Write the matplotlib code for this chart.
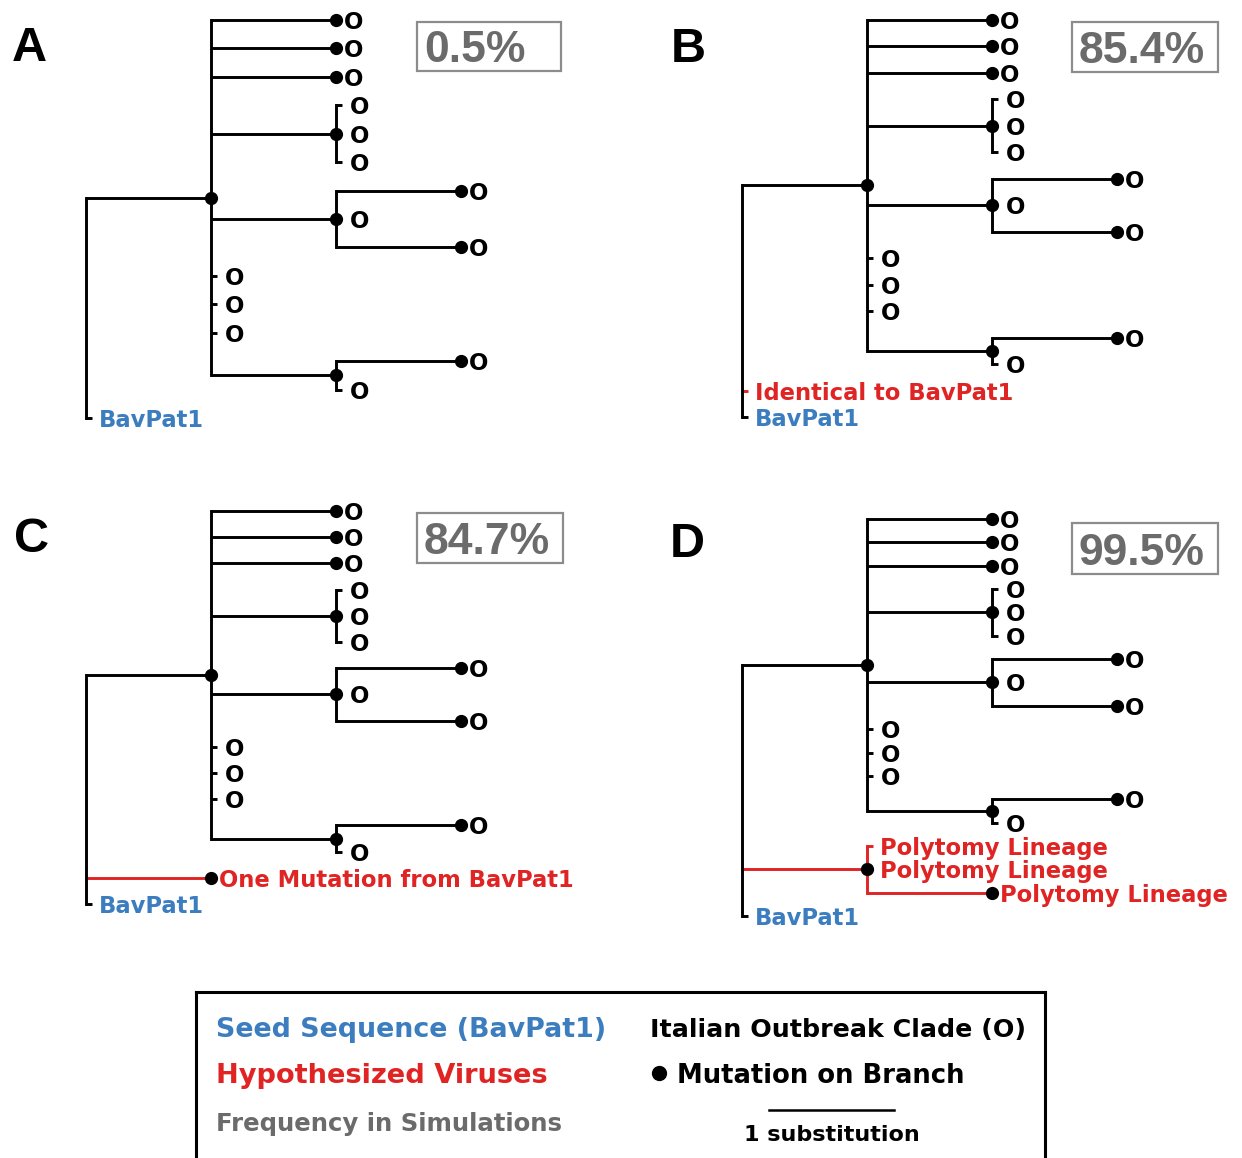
import matplotlib
matplotlib.use('Agg')
import matplotlib.pyplot as plt
from matplotlib.patches import Rectangle

W, H = 1242, 1158
fig = plt.figure(figsize=(W / 100, H / 100), dpi=100)

BLUE = '#3b7dbf'
RED = '#e02424'
GRAY = '#6b6b6b'
BOXGRAY = '#8c8c8c'
LW = 2.1
DOT = 8.5
TICK = 0.045         # length (substitutions) drawn for a zero-length tip
LABEL_FONT = 'DejaVu Sans'
HEAD_FONT = 'Liberation Sans'

# ---- data -------------------------------------------------------------
# tree nodes are (branch length in substitutions, children list or tip label)
O = 'O'
outbreak_clade = (1, [(1, O), (1, O), (1, O),
                      (1, [(0, O), (0, O), (0, O)]),
                      (1, [(1, O), (0, O), (1, O)]),
                      (0, O), (0, O), (0, O),
                      (1, [(1, O), (0, O)])])
seed_tip = (0, 'BavPat1')
panels = ['A', 'B', 'C', 'D']
hypothesized = {
    'A': None,
    'B': (0, 'Identical to BavPat1'),
    'C': (1, 'One Mutation from BavPat1'),
    'D': (1, [(0, 'Polytomy Lineage'), (0, 'Polytomy Lineage'), (1, 'Polytomy Lineage')]),
}
frequencies = {'A': 0.5, 'B': 85.4, 'C': 84.7, 'D': 99.5}
scale_bar_subs = 1

# ---- layout (pixels) ----------------------------------------------------
UNIT = 125.0   # px per substitution
# root x, first tip y, last tip y
panel_pos = {'A': (86, 20, 418), 'B': (742, 20, 417),
             'C': (86, 511, 904), 'D': (742, 519, 916)}
letter_pos = {'A': (12, 61), 'B': (671, 62), 'C': (14, 552), 'D': (670, 557)}
box_pos = {'A': (417, 22, 144, 49), 'B': (1072, 22, 146, 50),
           'C': (417, 513, 146, 50), 'D': (1072, 523, 146, 51)}


def count_tips(node):
    body = node[1]
    if isinstance(body, list):
        return sum(count_tips(c) for c in body)
    return 1


def draw_node(ax, node, x0, color, label_color, counter):
    length, body = node
    x = x0 + length
    if isinstance(body, list):
        ys = [draw_node(ax, c, x, color, label_color, counter) for c in body]
        y = (ys[0] + ys[-1]) / 2.0
        ax.plot([x, x], [ys[0], ys[-1]], color=color, lw=LW,
                solid_capstyle='projecting', clip_on=False)
    else:
        y = counter[0]
        counter[0] += 1
        if body == O:
            dx, size = (6.0 if length > 0 else 10.0), 16.5
        else:
            dx, size = (5.5 if length > 0 else 9.5), 16.3
        ax.annotate(body, (x, y), xytext=(dx, 0), textcoords='offset points',
                    ha='left', va='center_baseline', color=label_color,
                    fontsize=size, fontweight='bold', family=LABEL_FONT,
                    annotation_clip=False)
    if length > 0:
        ax.plot([x0, x], [y, y], color=color, lw=LW, solid_capstyle='butt', clip_on=False)
        ax.plot(x, y, 'o', color='black', ms=DOT, zorder=4, clip_on=False)
    elif not isinstance(body, list):
        ax.plot([x0, x0 + TICK], [y, y], color=color, lw=LW,
                solid_capstyle='butt', clip_on=False)
    return y


for p in panels:
    rx, ytop, ybot = panel_pos[p]
    children = [(outbreak_clade, 'black', 'black')]
    if hypothesized[p] is not None:
        children.append((hypothesized[p], RED, RED))
    children.append((seed_tip, 'black', BLUE))
    n = sum(count_tips(c[0]) for c in children)

    ax = fig.add_axes([rx / W, 1 - ybot / H, 3 * UNIT / W, (ybot - ytop) / H])
    ax.set_xlim(0, 3)
    ax.set_ylim(n - 1, 0)
    ax.axis('off')

    counter = [0]
    ys = [draw_node(ax, node, 0, c, lc, counter) for node, c, lc in children]
    ax.plot([0, 0], [ys[0], ys[-1]], color='black', lw=LW,
            solid_capstyle='projecting', clip_on=False)

    lx, ly = letter_pos[p]
    fig.text(lx / W, 1 - ly / H, p, fontsize=35, fontweight='bold',
             family=HEAD_FONT, va='baseline', ha='left')

    bx, by, bw, bh = box_pos[p]
    fig.add_artist(Rectangle((bx / W, 1 - (by + bh) / H), bw / W, bh / H,
                             transform=fig.transFigure, fill=False,
                             ec=BOXGRAY, lw=1.6))
    fig.text((bx + 7) / W, 1 - (by + bh / 2) / H, '%.1f%%' % frequencies[p],
             fontsize=32, fontweight='bold', family=HEAD_FONT, color=GRAY,
             ha='left', va='center_baseline')

# ---- legend box ---------------------------------------------------------
lx0, ly0, lx1 = 196, 992, 1045
lg = fig.add_axes([lx0 / W, 0, (lx1 - lx0) / W, 1 - ly0 / H])
lg.set_xlim(0, (lx1 - lx0) / UNIT)
lg.set_ylim(H - ly0, 0)
lg.set_xticks([])
lg.set_yticks([])
for s in ['left', 'right', 'top']:
    lg.spines[s].set_linewidth(2.2)
lg.spines['bottom'].set_visible(False)
lg.patch.set_alpha(0)


def legend_text(xpx, ypx, s, color, size):
    lg.text((xpx - lx0) / UNIT, ypx - ly0, s, color=color, fontsize=size,
            fontweight='bold', family=LABEL_FONT, ha='left', va='center_baseline')


legend_text(216, 1027, 'Seed Sequence (BavPat1)', BLUE, 19.4)
legend_text(216, 1073, 'Hypothesized Viruses', RED, 19.6)
legend_text(216, 1121, 'Frequency in Simulations', GRAY, 17.6)
legend_text(650, 1027, 'Italian Outbreak Clade (O)', 'black', 18.3)
lg.plot((659 - lx0) / UNIT, 1073 - ly0, 'o', color='black', ms=10)
legend_text(677, 1073, 'Mutation on Branch', 'black', 18.6)

bar_x = (769 - lx0) / UNIT
lg.plot([bar_x, bar_x + scale_bar_subs], [1110 - ly0, 1110 - ly0], color='black', lw=1.8)
lg.text(bar_x + scale_bar_subs / 2, 1133 - ly0, '1 substitution', fontsize=16,
        fontweight='bold', family=LABEL_FONT, ha='center', va='center_baseline')

fig.savefig('out.png', dpi=100)
